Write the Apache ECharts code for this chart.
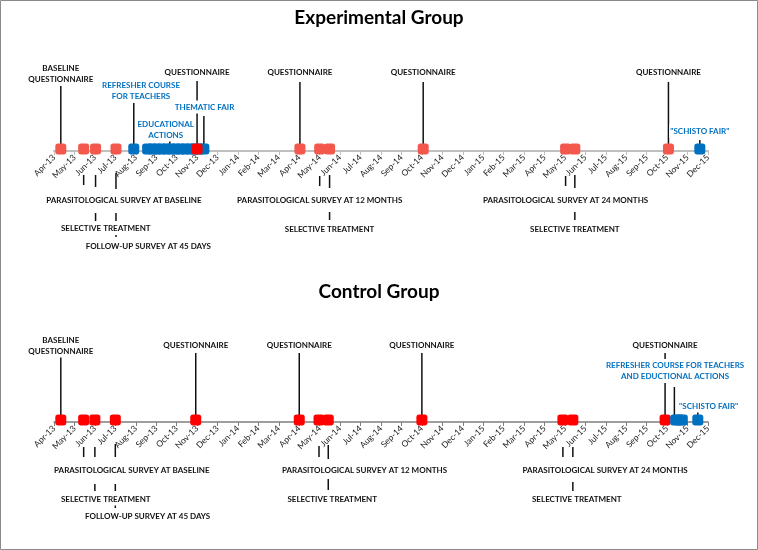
<!DOCTYPE html>
<html><head><meta charset="utf-8">
<script src="https://cdn.jsdelivr.net/npm/echarts@6/dist/echarts.min.js"></script>
<style>html,body{margin:0;padding:0;background:#fff}#c{width:758px;height:550px}</style>
</head><body><div id="c"></div><script>
// ---------- DATA ----------
const monthLabels = ['Apr-13','May-13','Jun-13','Jul-13','Aug-13','Sep-13','Oct-13','Nov-13','Dec-13',
  'Jan-14','Feb-14','Mar-14','Apr-14','May-14','Jun-14','Jul-14','Aug-14','Sep-14','Oct-14','Nov-14','Dec-14',
  'Jan-15','Feb-15','Mar-15','Apr-15','May-15','Jun-15','Jul-15','Aug-15','Sep-15','Oct-15','Nov-15','Dec-15'];

// Experimental group events (dates)
const expRed = ['2013-04-11','2013-05-15','2013-06-02','2013-07-02','2014-04-02','2014-05-01','2014-05-16',
  '2014-10-03','2015-05-02','2015-05-16','2015-10-03'];
const expRedStrong = ['2013-11-01'];
const expBlue = ['2013-07-29','2013-08-19','2013-08-26','2013-09-02','2013-09-09','2013-09-16','2013-09-23',
  '2013-09-30','2013-10-07','2013-10-14','2013-10-21','2013-10-28','2013-11-04','2013-11-11','2015-11-19'];

// Control group events (dates)
const ctrlRed = ['2013-04-11','2013-05-15','2013-06-01','2013-07-01','2013-10-30','2014-04-01','2014-04-30',
  '2014-05-14','2014-10-01','2015-04-28','2015-05-13','2015-09-28'];
const ctrlBlue = ['2015-10-14','2015-10-19','2015-10-24','2015-11-16'];

// Annotation texts with anchor dates
const expTextsBlack = [
  ['2013-04-11','BASELINE\nQUESTIONNAIRE'],
  ['2013-11-01','QUESTIONNAIRE'],
  ['2014-04-02','QUESTIONNAIRE'],
  ['2014-10-03','QUESTIONNAIRE'],
  ['2015-10-03','QUESTIONNAIRE'],
  ['2013-07-14','PARASITOLOGICAL SURVEY AT BASELINE'],
  ['2013-06-17','SELECTIVE TREATMENT'],
  ['2013-08-20','FOLLOW-UP SURVEY AT 45 DAYS'],
  ['2014-05-01','PARASITOLOGICAL SURVEY AT 12 MONTHS'],
  ['2014-05-16','SELECTIVE TREATMENT'],
  ['2015-05-02','PARASITOLOGICAL SURVEY AT 24 MONTHS'],
  ['2015-05-16','SELECTIVE TREATMENT']
];
const expTextsBlue = [
  ['2013-08-09','REFRESHER COURSE\nFOR TEACHERS'],
  ['2013-11-12','THEMATIC FAIR'],
  ['2013-09-15','EDUCATIONAL\nACTIONS'],
  ['2015-11-19','"SCHISTO FAIR"']
];
const ctrlTextsBlack = [
  ['2013-04-11','BASELINE\nQUESTIONNAIRE'],
  ['2013-10-30','QUESTIONNAIRE'],
  ['2014-04-01','QUESTIONNAIRE'],
  ['2014-10-01','QUESTIONNAIRE'],
  ['2015-09-28','QUESTIONNAIRE'],
  ['2013-07-26','PARASITOLOGICAL SURVEY AT BASELINE'],
  ['2013-06-17','SELECTIVE TREATMENT'],
  ['2013-08-19','FOLLOW-UP SURVEY AT 45 DAYS'],
  ['2014-07-07','PARASITOLOGICAL SURVEY AT 12 MONTHS'],
  ['2014-05-20','SELECTIVE TREATMENT'],
  ['2015-06-30','PARASITOLOGICAL SURVEY AT 24 MONTHS'],
  ['2015-05-19','SELECTIVE TREATMENT']
];
const ctrlTextsBlue = [
  ['2015-10-13','REFRESHER COURSE FOR TEACHERS\nAND EDUCTIONAL ACTIONS'],
  ['2015-12-02','"SCHISTO FAIR"']
];

// Connector stems: anchor dates
const expStemDates = ['2013-04-11','2013-07-29','2013-11-01','2013-11-11','2013-09-21','2014-04-02','2014-10-03',
  '2015-10-03','2015-11-19','2013-05-15','2013-06-02','2013-07-02','2013-06-02','2013-07-02','2013-07-02',
  '2014-05-01','2014-05-16','2014-05-16','2015-05-02','2015-05-16','2015-05-16'];
const ctrlStemDates = ['2013-04-11','2013-10-30','2014-04-01','2014-10-01','2015-09-28','2015-10-12','2015-11-16',
  '2013-05-15','2013-06-01','2013-07-01','2013-06-01','2013-07-01','2013-07-01',
  '2014-04-30','2014-05-14','2014-05-14','2015-04-28','2015-05-13','2015-05-13'];

// ---------- LAYOUT (levels above/below the axis) ----------
const expTextLevelsBlack = [77, 79, 79, 79, 79, -49, -77.5, -95, -49, -78, -49, -78];
const expTextLevelsBlue = [60, 44, 21.5, 20];
const ctrlTextLevelsBlack = [76.5, 77, 77, 77, 77, -48.7, -77, -94.7, -48, -77, -48, -77];
const ctrlTextLevelsBlue = [51, 16];
const expStemLevels = [[2,66],[2,48],[2,70],[2,35],[2,11],[2,69],[2,69],[2,69],[2,11],
  [-24,-34],[-24,-36],[-22,-38],[-62,-70],[-62,-70],[-83,-86],
  [-25,-35],[-24,-37],[-61,-69],[-25,-35],[-24,-37],[-61,-69]];
const ctrlStemLevels = [[2,66],[2,69],[2,69],[2,69],[2,69],[2,35],[2,10],
  [-25,-35],[-25,-35],[-22,-35],[-62,-69],[-62,-69],[-82,-86],
  [-24,-35],[-23,-37],[-57,-68],[-25,-35],[-25,-35],[-60,-69]];

// ---------- RENDER ----------
const FONT = 'Lato, "DejaVu Sans", sans-serif';
const BLUE_TXT = '#0070C0';
function toMonth(s){
  const [y,mo,d] = s.split('-').map(Number);
  const dim = new Date(y, mo, 0).getDate();
  return (y-2013)*12 + (mo-4) + (d-1)/dim;
}
function markerSeries(dates, idx, color){
  return {type:'scatter', xAxisIndex:idx, yAxisIndex:idx, symbol:'roundRect', symbolSize:11, z:4,
    itemStyle:{color:color, opacity:1}, silent:true, clip:false,
    data: dates.map(d=>[toMonth(d), 2])};
}
function stemSeries(dates, levels, idx){
  return {type:'custom', xAxisIndex:idx, yAxisIndex:idx, z:2, silent:true, clip:false,
    encode:{x:0, y:[1,2]},
    data: dates.map((d,i)=>[toMonth(d), levels[i][0], levels[i][1]]),
    renderItem:(params, api)=>{
      const a = api.coord([api.value(0), api.value(1)]);
      const b = api.coord([api.value(0), api.value(2)]);
      return {type:'line', shape:{x1:a[0], y1:a[1], x2:b[0], y2:b[1]}, style:{stroke:'#111', lineWidth:1.5}};
    }};
}
function textSeries(texts, levels, idx, color){
  return {type:'custom', xAxisIndex:idx, yAxisIndex:idx, z:6, silent:true, clip:false,
    encode:{x:0, y:1},
    data: texts.map((t,i)=>[toMonth(t[0]), levels[i], i]),
    renderItem:(params, api)=>{
      const p = api.coord([api.value(0), api.value(1)]);
      return {type:'text', x:p[0], y:p[1], z2:10, style:{text:texts[api.value(2)][1], fill:color,
        fontFamily:FONT, fontSize:8, fontWeight:'bold', align:'center', verticalAlign:'middle',
        lineHeight:11, backgroundColor:'#fff', padding:[1,1,1,1]}};
    }};
}
function xAxisCfg(idx, lineColor, width){
  return {type:'value', gridIndex:idx, min:0, max:32, interval:1,
    axisLine:{onZero:false, lineStyle:{color:lineColor, width:width}},
    axisTick:{show:true, length:4, lineStyle:{color:lineColor}},
    axisLabel:{rotate:45, margin:5, fontSize:8.5, fontFamily:FONT, color:'#222', formatter:v=>monthLabels[v]},
    splitLine:{show:false}};
}
const chart = echarts.init(document.getElementById('c'), null, {renderer:'canvas'});
chart.setOption({
  animation:false,
  backgroundColor:'#fff',
  title:[
    {text:'Experimental Group', left:'center', top:3, textStyle:{fontFamily:FONT, fontSize:19, fontWeight:'bold', color:'#000'}},
    {text:'Control Group', left:'center', top:277, textStyle:{fontFamily:FONT, fontSize:19, fontWeight:'bold', color:'#000'}}
  ],
  graphic:[{type:'rect', shape:{x:0.5, y:0.5, width:757, height:549}, style:{fill:'none', stroke:'#8a8a8a', lineWidth:1}, silent:true}],
  grid:[{left:54, right:50, top:51, height:100}, {left:54, right:50, top:322, height:100}],
  xAxis:[xAxisCfg(0,'#BFBFBF',2), xAxisCfg(1,'#7F7F7F',1.5)],
  yAxis:[{type:'value', gridIndex:0, min:0, max:100, show:false},
         {type:'value', gridIndex:1, min:0, max:100, show:false}],
  series:[
    stemSeries(expStemDates, expStemLevels, 0),
    markerSeries(expRed, 0, '#F4574B'),
    markerSeries(expBlue, 0, '#0070C0'),
    markerSeries(expRedStrong, 0, '#FF0000'),
    textSeries(expTextsBlack, expTextLevelsBlack, 0, '#111'),
    textSeries(expTextsBlue, expTextLevelsBlue, 0, BLUE_TXT),
    stemSeries(ctrlStemDates, ctrlStemLevels, 1),
    markerSeries(ctrlRed, 1, '#FF0000'),
    markerSeries(ctrlBlue, 1, '#0070C0'),
    textSeries(ctrlTextsBlack, ctrlTextLevelsBlack, 1, '#111'),
    textSeries(ctrlTextsBlue, ctrlTextLevelsBlue, 1, BLUE_TXT)
  ]
});
</script></body></html>
